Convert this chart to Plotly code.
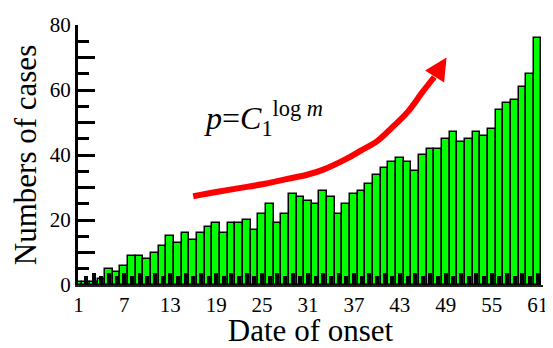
import plotly.graph_objects as go

# ---- data ----
days = list(range(1, 62))
cases = [1, 1, 1, 2, 5, 4, 6, 9, 9, 8,
         10, 12, 15, 13, 16, 14, 16, 18, 19, 16,
         19, 19, 20, 17, 22, 25, 19, 22, 28, 27,
         26, 25, 29, 27, 22, 25, 28, 29, 31, 34,
         36, 38, 39, 38, 35, 40, 42, 42, 45, 47,
         44, 45, 47, 46, 48, 54, 56, 57, 61, 65,
         76]

x_tick_vals = [1, 3, 5, 7, 9, 11, 13, 15, 17, 19, 21, 23, 25, 27, 29, 31,
               33, 35, 37, 39, 41, 43, 45, 47, 49, 51, 53, 55, 57, 59, 61]
x_tick_text = ["1", "", "", "7", "", "", "13", "", "", "19", "", "", "25", "", "", "31",
               "", "", "37", "", "", "43", "", "", "49", "", "", "55", "", "", "61"]
y_tick_vals = [0, 10, 20, 30, 40, 50, 60, 70, 80]
y_tick_text = ["0", "", "20", "", "40", "", "60", "", "80"]

# red trend arrow (sketched curve), in data units
arrow_x = [16.0, 19.0, 22.0, 25.0, 28.0, 31.0, 33.0, 36.0, 38.0, 40.0, 42.0, 44.0, 46.0, 47.5]
arrow_y = [27.3, 28.6, 29.8, 31.0, 32.5, 34.0, 35.5, 38.8, 41.5, 44.2, 48.5, 53.2, 59.5, 64.0]
arrow_head = (49.1, 70.0)

FONT = "Liberation Serif"

# the page body adds an 8px margin; size the figure to fit in the window
W, H = 545, 340
ML, MR, MT, MB = 70, 5, 12, 60

fig = go.Figure()
fig.add_trace(go.Bar(
    x=days, y=cases,
    marker=dict(color="#00FF00", line=dict(color="black", width=1.5)),
    showlegend=False,
))
fig.add_trace(go.Scatter(
    x=arrow_x, y=arrow_y, mode="lines",
    line=dict(color="#FF0000", width=6, shape="spline"),
    showlegend=False, hoverinfo="skip",
))
fig.add_annotation(
    x=arrow_head[0], y=arrow_head[1], ax=arrow_x[-1], ay=arrow_y[-1],
    xref="x", yref="y", axref="x", ayref="y",
    showarrow=True, arrowhead=2, arrowsize=0.75, arrowwidth=6,
    arrowcolor="#FF0000", text="",
)
pw = W - ML - MR
ph = H - MT - MB
# formula centre at page pixel (265, 116) -> figure pixel (257, 108)
fig.add_annotation(
    x=(257 - ML) / pw, y=(H - MB - 108) / ph, xref="paper", yref="paper",
    text="<i>p</i>=<i>C</i><sub>1</sub><sup>log <i>m</i></sup>",
    showarrow=False, font=dict(family=FONT, size=32, color="black"),
)

fig.update_layout(
    width=W, height=H,
    margin=dict(l=ML, r=MR, t=MT, b=MB),
    paper_bgcolor="white", plot_bgcolor="white",
    bargap=0,
    font=dict(family=FONT, color="black"),
    xaxis=dict(
        range=[0.95, 61.7],
        showline=True, linecolor="#222", linewidth=2,
        ticks="inside", tickvals=x_tick_vals, ticktext=x_tick_text,
        ticklen=12, tickwidth=4, tickcolor="black",
        minor=dict(dtick=1, tick0=1, ticks="inside", ticklen=9, tickwidth=4, tickcolor="black"),
        tickfont=dict(family=FONT, size=21, color="black"),
        ticklabeloverflow="allow",
        showgrid=False, zeroline=False,
        title=dict(text="Date of onset", font=dict(family=FONT, size=31, color="black"), standoff=4),
    ),
    yaxis=dict(
        range=[0, 80],
        showline=True, linecolor="black", linewidth=3,
        ticks="inside", tickvals=y_tick_vals, ticktext=y_tick_text,
        ticklen=17, tickwidth=3, tickcolor="black",
        minor=dict(dtick=5, tick0=0, ticks="inside", ticklen=11, tickwidth=3, tickcolor="black"),
        tickfont=dict(family=FONT, size=21, color="black"),
        ticklabeloverflow="allow",
        showgrid=False, zeroline=False,
        title=dict(text="Numbers of cases", font=dict(family=FONT, size=31, color="black"), standoff=4),
    ),
)

fig.write_html("out.html")
